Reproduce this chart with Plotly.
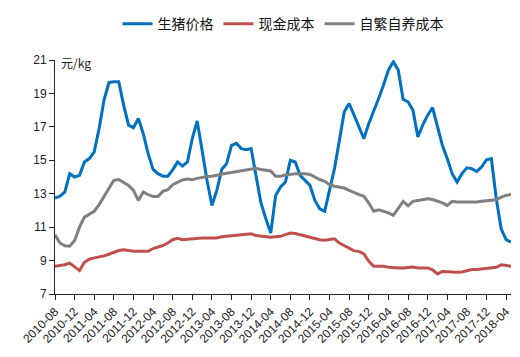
import plotly.graph_objects as go

months = []
y, m = 2010, 8
for _ in range(94):
    months.append(f"{y}-{m:02d}")
    m += 1
    if m > 12:
        m = 1
        y += 1

hog_price = [12.74, 12.85, 13.1, 14.2, 14.0, 14.1, 14.9, 15.1, 15.5, 16.9,
             18.6, 19.65, 19.7, 19.7, 18.3, 17.1, 16.95, 17.5, 16.6, 15.4,
             14.45, 14.2, 14.05, 14.05, 14.43, 14.9, 14.65, 14.9, 16.3, 17.35,
             15.6, 13.8, 12.3, 13.2, 14.45, 14.8, 15.9, 16.02, 15.7, 15.63,
             15.7, 14.0, 12.45, 11.5, 10.65, 12.9, 13.4, 13.7, 15.0, 14.9,
             14.1, 13.8, 13.5, 12.6, 12.1, 11.95, 13.3, 14.5, 16.2, 17.9,
             18.4, 17.7, 17.0, 16.3, 17.2, 17.9, 18.7, 19.5, 20.4, 20.9,
             20.4, 18.65, 18.5, 18.0, 16.4, 17.1, 17.7, 18.15, 17.0, 15.9,
             15.1, 14.2, 13.7, 14.2, 14.55, 14.5, 14.33, 14.6, 15.03, 15.1,
             12.7, 10.9, 10.25, 10.1]

cash_cost = [8.66, 8.7, 8.75, 8.85, 8.65, 8.4, 8.9, 9.08, 9.16, 9.2,
             9.28, 9.38, 9.5, 9.6, 9.65, 9.6, 9.56, 9.56, 9.56, 9.56,
             9.72, 9.8, 9.9, 10.05, 10.25, 10.33, 10.25, 10.28, 10.31, 10.35,
             10.35, 10.35, 10.35, 10.35, 10.42, 10.45, 10.5, 10.5, 10.55, 10.6,
             10.6, 10.5, 10.45, 10.4, 10.39, 10.42, 10.45, 10.55, 10.65, 10.62,
             10.55, 10.45, 10.38, 10.3, 10.25, 10.22, 10.28, 10.3, 10.05, 9.9,
             9.7, 9.58, 9.55, 9.4, 8.95, 8.66, 8.66, 8.66, 8.6, 8.56,
             8.56, 8.56, 8.58, 8.62, 8.56, 8.56, 8.56, 8.45, 8.2, 8.35,
             8.33, 8.32, 8.3, 8.32, 8.4, 8.46, 8.46, 8.5, 8.56, 8.58,
             8.6, 8.75, 8.7, 8.66]

self_breed_cost = [10.55, 10.05, 9.88, 9.86, 10.2, 11.0, 11.6, 11.8, 11.95, 12.35,
                   12.85, 13.35, 13.8, 13.85, 13.68, 13.5, 13.2, 12.6, 13.1, 12.94,
                   12.84, 12.84, 13.14, 13.24, 13.54, 13.7, 13.82, 13.88, 13.84, 13.92,
                   13.98, 14.03, 14.05, 14.12, 14.2, 14.23, 14.27, 14.32, 14.36, 14.4,
                   14.43, 14.52, 14.45, 14.4, 14.36, 14.05, 14.05, 14.12, 14.18, 14.2,
                   14.2, 14.2, 14.15, 13.98, 13.85, 13.74, 13.54, 13.45, 13.38, 13.34,
                   13.2, 13.05, 12.94, 12.84, 12.44, 11.95, 12.04, 11.95, 11.85, 11.7,
                   12.14, 12.54, 12.28, 12.54, 12.6, 12.66, 12.7, 12.65, 12.55, 12.45,
                   12.3, 12.54, 12.5, 12.5, 12.5, 12.5, 12.5, 12.55, 12.58, 12.6,
                   12.64, 12.8, 12.9, 12.95]

series_names = ["生猪价格", "现金成本", "自繁自养成本"]
y_ticks = [7, 9, 11, 13, 15, 17, 19, 21]

x_idx = list(range(len(months)))
tick_idx = x_idx[::4]
tick_text = [months[i] for i in tick_idx]

colors = ["#0070C0", "#C0504D", "#808080"]
fig = go.Figure()
for name, vals, c in zip(series_names, [hog_price, cash_cost, self_breed_cost], colors):
    fig.add_trace(go.Scatter(x=x_idx, y=vals, mode="lines", name=name,
                             line=dict(color=c, width=3), hoverinfo="skip"))

fig.update_layout(
    width=520, height=357,
    margin=dict(l=43, r=17, t=52, b=71),
    paper_bgcolor="white", plot_bgcolor="white",
    font=dict(family="Liberation Sans, Noto Sans CJK SC", size=12, color="#222"),
    showlegend=True,
    legend=dict(orientation="h", x=0.5, xanchor="center", y=0.955, yanchor="middle",
                yref="container", font=dict(family="Noto Sans CJK SC", size=14, color="#111"),
                itemwidth=30, tracegroupgap=0),
    xaxis=dict(range=[0, 93], tickmode="array", tickvals=tick_idx, ticktext=tick_text,
               tickangle=-45, showgrid=False, zeroline=False, showline=True,
               linecolor="#222", linewidth=1, ticks="outside", ticklen=5,
               tickcolor="#222", tickfont=dict(size=12, color="#222")),
    yaxis=dict(range=[7, 21], tickvals=y_ticks, showgrid=False, zeroline=False,
               showline=True, linecolor="#222", linewidth=1, ticks="outside",
               ticklen=5, tickcolor="#222", tickfont=dict(size=12, color="#222")),
    annotations=[dict(text="元/kg", x=0.008, y=1.035, xref="paper", yref="paper",
                      xanchor="left", yanchor="top", showarrow=False,
                      font=dict(family="Noto Sans CJK SC, Liberation Sans", size=12, color="#222"))],
)

fig.write_html("out.html")
